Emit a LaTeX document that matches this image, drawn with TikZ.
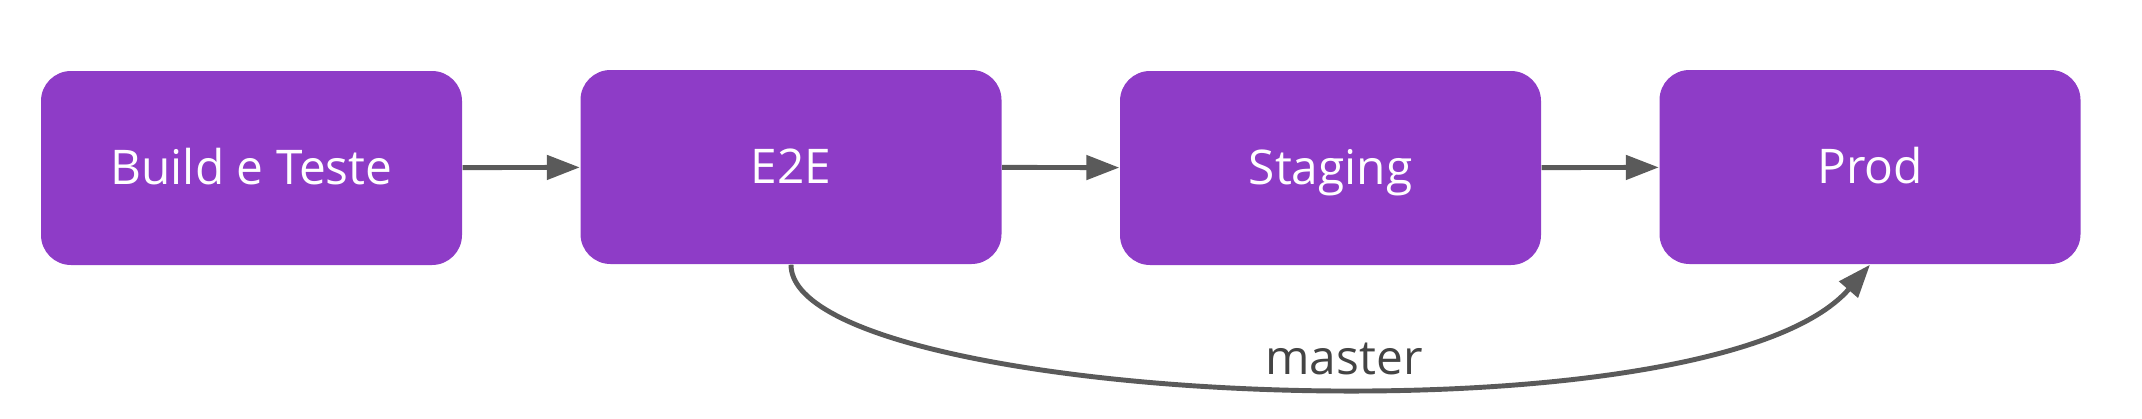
\documentclass[tikz,border=0pt]{standalone}
\usepackage{fontspec}
\setmainfont{Open Sans}
\usepackage{xcolor}
\usetikzlibrary{arrows.meta, positioning, calc}
\definecolor{stagepurple}{HTML}{8E3CC7}
\definecolor{flowgray}{HTML}{5A5A5A}
\definecolor{labelgray}{HTML}{444444}

\begin{document}
\begin{tikzpicture}[
  stagebox/.style={fill=stagepurple, rounded corners=0.3cm, minimum width=4.21cm,
    minimum height=1.94cm, inner sep=0pt, text=white, text height=0.33cm, text depth=0cm,
    font=\fontsize{13.6}{16}\selectfont},
  flow/.style={draw=flowgray, line width=1.4pt, -{Triangle[length=3.3mm, width=2.4mm]}}
]
\useasboundingbox (0,0) rectangle (21.42,4.18);

% pipeline stages
\node[stagebox] (build) at (2.515,2.50) {Build e Teste};
\node[stagebox] (e2e) at (7.91,2.51) {E2E};
\node[stagebox] (staging) at (13.305,2.50) {Staging};
\node[stagebox] (prod) at (18.70,2.51) {Prod};

% straight hand-offs
\draw[flow] (build) -- (e2e);
\draw[flow] (e2e) -- (staging);
\draw[flow] (staging) -- (prod);

% master shortcut
\draw[flow] (e2e.south) .. controls +(0,-1.4) and +(-1.6,-1.85) .. (prod.south);
\node[text=labelgray, font=\fontsize{13.6}{16}\selectfont, anchor=base] (master) at (13.44,0.44) {master};
\end{tikzpicture}
\end{document}
